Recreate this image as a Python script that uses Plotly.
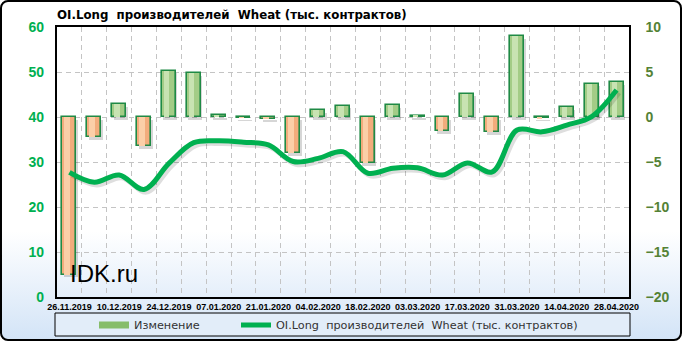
import base64
import plotly.graph_objects as go

dates = ["26.11.2019", "03.12.2019", "10.12.2019", "17.12.2019", "24.12.2019", "31.12.2019",
         "07.01.2020", "14.01.2020", "21.01.2020", "28.01.2020", "04.02.2020", "11.02.2020",
         "18.02.2020", "25.02.2020", "03.03.2020", "10.03.2020", "17.03.2020", "24.03.2020",
         "31.03.2020", "07.04.2020", "14.04.2020", "21.04.2020", "28.04.2020"]
change = [-17.5, -2.2, 1.4, -3.2, 5.15, 4.85, 0.2, -0.1, -0.25, -4.0, 0.8, 1.25, -5.1, 1.33,
          0.15, -1.55, 2.6, -1.7, 9.0, -0.15, 1.1, 3.7, 3.9]
oi_long = [27.7, 25.5, 27.1, 23.9, 29.7, 34.3, 34.7, 34.4, 33.8, 30.1, 30.8, 32.3, 27.5, 28.6,
           28.7, 27.1, 29.8, 27.8, 37.1, 36.7, 38.2, 40.1, 46.0]

title = "OI.Long  производителей  Wheat (тыс. контрактов)"
bar_name = "Изменение"
line_name = "OI.Long  производителей  Wheat (тыс. контрактов)"

n = len(dates)
idx = list(range(n))

pos_fill, neg_fill = "#a3cc86", "#f2ac7c"
pos_hi, neg_hi = "#c8e3b2", "#fbcfa8"
fills = [pos_fill if v >= 0 else neg_fill for v in change]
his = [pos_hi if v >= 0 else neg_hi for v in change]

W, H = 682, 341
ml, mr, mt, mb = 57, 53, 27, 44
pw, ph = W - ml - mr, H - mt - mb

svg = (f"<svg xmlns='http://www.w3.org/2000/svg' width='{W}' height='{H}' viewBox='0 0 {W} {H}' preserveAspectRatio='none'>"
       "<defs><linearGradient id='g' x1='0' y1='0' x2='0' y2='1'>"
       "<stop offset='0' stop-color='#ffffff'/><stop offset='0.68' stop-color='#ffffff'/>"
       "<stop offset='1' stop-color='#d3e4f7'/></linearGradient></defs>"
       f"<rect x='1' y='1' width='{W-2}' height='{H-2}' rx='7' ry='7' fill='url(#g)' stroke='#000' stroke-width='2'/></svg>")
src = "data:image/svg+xml;base64," + base64.b64encode(svg.encode()).decode()

fig = go.Figure()

# bar shadow
fig.add_trace(go.Bar(x=idx, y=change, base=[-0.3] * n, width=0.56, offset=-0.22,
                     marker=dict(color="rgba(0,0,0,0.16)", line=dict(width=0)),
                     showlegend=False, hoverinfo="skip", xaxis="x", yaxis="y"))
# main bars
fig.add_trace(go.Bar(x=idx, y=change, width=0.56, name=bar_name, showlegend=False,
                     marker=dict(color=fills, line=dict(color="#1f8a45", width=1.6)),
                     xaxis="x", yaxis="y"))
# highlight
fig.add_trace(go.Bar(x=idx, y=change, width=0.22, offset=-0.2,
                     marker=dict(color=his, line=dict(width=0)),
                     showlegend=False, hoverinfo="skip", xaxis="x", yaxis="y"))
# legend entry for bars (wide green swatch)
fig.add_trace(go.Scatter(x=[None], y=[None], name=bar_name, legend="legend", mode="lines",
                         line=dict(color="#86bd6a", width=7),
                         xaxis="x", yaxis="y"))

# line shadow
fig.add_trace(go.Scatter(x=[i + 0.1 for i in idx], y=[v - 0.6 for v in oi_long], mode="lines",
                         line=dict(color="rgba(0,0,0,0.13)", width=5, shape="spline", smoothing=1),
                         showlegend=False, hoverinfo="skip", xaxis="x", yaxis="y2"))
fig.add_trace(go.Scatter(x=idx, y=oi_long, mode="lines", name=line_name, legend="legend2",
                         line=dict(color="#00b050", width=5, shape="spline", smoothing=1),
                         xaxis="x", yaxis="y2"))

legend_common = dict(orientation="h", xanchor="left", y=(297 - 325) / ph, yanchor="middle",
                     bgcolor="rgba(0,0,0,0)", borderwidth=0,
                     font=dict(size=11.25, family="DejaVu Sans", color="#333"))

fig.update_layout(
    width=W, height=H,
    margin=dict(l=ml, r=mr, t=mt, b=mb, pad=0, autoexpand=False),
    paper_bgcolor="rgba(0,0,0,0)", plot_bgcolor="rgba(0,0,0,0)",
    barmode="overlay", bargap=0,
    font=dict(family="Liberation Sans, Arial", color="#000"),
    title=dict(text=f"<b>{title}</b>", x=0, xref="paper", xanchor="left",
               y=1 - 15 / H, yref="container", yanchor="middle",
               font=dict(size=11.8, family="DejaVu Sans", color="#000")),
    xaxis=dict(range=[-0.5, n - 0.5], tickmode="array", tickvals=idx[::2],
               ticktext=[f"<b>{d}</b>" for d in dates[::2]],
               tickfont=dict(size=9, family="Liberation Sans", color="#000"),
               showgrid=False, zeroline=False, ticks="", tickangle=0, automargin=False,
               showline=True, linecolor="#000", linewidth=1.5, mirror=True,
               minor=dict(tickmode="array", tickvals=[i + 0.5 for i in idx[:-1]], showgrid=True,
                          gridcolor="#c4c4c4", griddash="5px,4px", gridwidth=1, ticks="")),
    yaxis=dict(side="right", range=[-20, 10], dtick=5, tick0=0,
               tickfont=dict(size=14, family="Liberation Sans", color="#548235"),
               tickprefix="<b>", ticksuffix="</b>",
               showgrid=True, gridcolor="#c4c4c4", griddash="5px,4px", automargin=False,
               zeroline=False, ticks="", ticklabelstandoff=12,
               showline=True, linecolor="#000", linewidth=1.5, mirror=True),
    yaxis2=dict(side="left", overlaying="y", range=[0, 60], dtick=10,
                tickfont=dict(size=14, family="Liberation Sans", color="#00b050"),
                tickprefix="<b>", ticksuffix="</b>", automargin=False,
                showgrid=False, zeroline=False, ticks="", ticklabelstandoff=12),
    legend=dict(x=(94 - ml) / pw, **legend_common),
    legend2=dict(x=(236 - ml) / pw, **legend_common),
    images=[dict(source=src, xref="paper", yref="paper", x=-ml / pw, y=1 + mt / ph,
                 sizex=W / pw, sizey=H / ph, sizing="stretch", xanchor="left", yanchor="top",
                 layer="below")],
    shapes=[dict(type="rect", xref="paper", yref="paper", x0=-2 / pw, x1=1 + 1 / pw,
                 y0=(297 - 336) / ph, y1=(297 - 313) / ph, fillcolor="#e2edf9",
                 line=dict(color="#000", width=1), layer="below")],
    annotations=[dict(text="IDK.ru", xref="paper", yref="paper", x=(68 - ml) / pw, y=(297 - 273) / ph,
                      xanchor="left", yanchor="middle", showarrow=False,
                      font=dict(size=24, family="Liberation Sans", color="#000"))],
)

fig.write_html("out.html")
